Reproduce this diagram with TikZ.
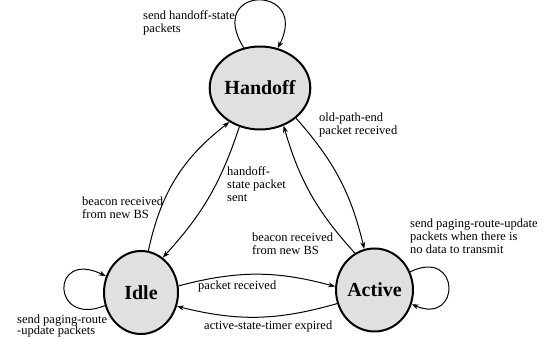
\documentclass[tikz,border=0pt]{standalone}
\usepackage{fontspec}
\setmainfont{Liberation Serif}
\usetikzlibrary{shapes.geometric,arrows.meta}
\begin{document}
\begin{tikzpicture}[x=1pt,y=1pt,
  state/.style={ellipse, draw, line width=2pt, fill=black!12,
    minimum width=74pt, minimum height=83pt, inner sep=0pt,
    font=\fontsize{20}{22}\selectfont\bfseries},
  trans/.style={line width=1pt, -{Stealth[length=7pt,width=5pt]}},
  lbl/.style={anchor=north west, inner sep=0pt, align=left,
    font=\fontsize{12.5}{13}\selectfont}]
\useasboundingbox (0,0) rectangle (549,339);

% states
\node[state] (handoff) at (260,251) {Handoff};
\node[state] (idle)    at (141,46.5) {Idle};
\node[state] (active)  at (374.5,49) {Active};

% transitions between states
\draw[trans] (idle.80) to[bend left=20] (handoff.228);
\draw[trans] (handoff.242) to[bend left=12] (idle.58);
\draw[trans] (active.118) to[bend left=13] (handoff.302);
\draw[trans] (handoff.320) to[bend left=14] (active.104);
\draw[trans] (idle.10) to[bend left=15] (active.175);
\draw[trans] (active.200) to[bend left=15] (idle.339);

% self loops
\draw[trans] (handoff.112) .. controls +(122:74) and +(63:72) .. (handoff.66);
\draw[trans] (idle.200) .. controls +(202:58) and +(154:62) .. (idle.155);
\draw[trans] (active.27) .. controls +(26:56) and +(-23:54) .. (active.-21);

% transition labels
\node[lbl] (lA) at (143,328) {send handoff-state\\packets};
\node[lbl] (lB) at (319,226) {old-path-end\\packet received};
\node[lbl] (lC) at (227,172) {handoff-\\state packet\\sent};
\node[lbl] (lD) at (82,142) {beacon received\\from new BS};
\node[lbl] (lE) at (252,106) {beacon received\\from new BS};
\node[lbl] (lF) at (410,120) {send paging-route-update\\packets when there is\\no data to transmit};
\node[lbl] (lG) at (198,58) {packet received};
\node[lbl] (lH) at (204,18) {active-state-timer expired};
\node[lbl, font=\fontsize{12.5}{11.5}\selectfont] (lI) at (17,24.5) {send paging-route\\-update packets};
\end{tikzpicture}
\end{document}
